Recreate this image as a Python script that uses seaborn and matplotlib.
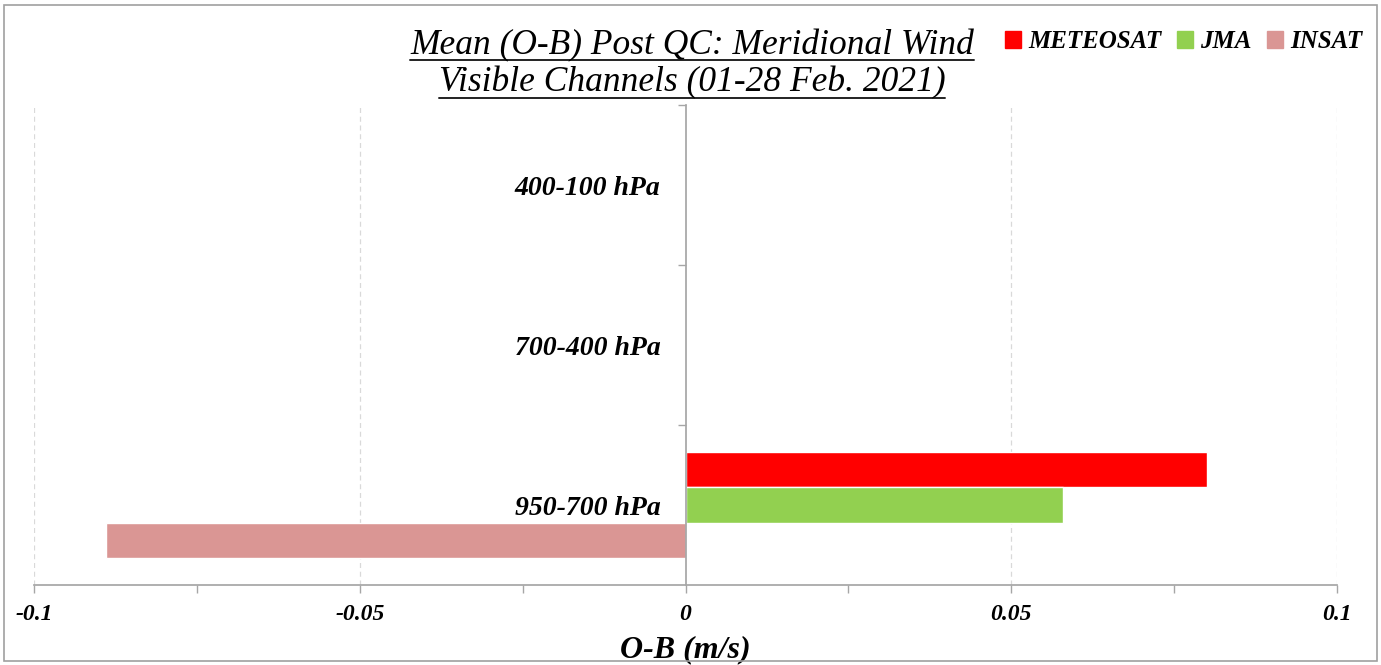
import numpy as np
import pandas as pd
import matplotlib
matplotlib.use("Agg")
import matplotlib.pyplot as plt
from matplotlib.lines import Line2D
from matplotlib.patches import Rectangle
import seaborn as sns

layers = ["400-100 hPa", "700-400 hPa", "950-700 hPa"]
satellites = ["METEOSAT", "JMA", "INSAT"]
meteosat = [np.nan, np.nan, 0.080]
jma = [np.nan, np.nan, 0.058]
insat = [np.nan, np.nan, -0.089]
colors = ["#ff0000", "#92d050", "#da9694"]
xticks = [-0.1, -0.05, 0, 0.05, 0.1]
xtick_labels = ["-0.1", "-0.05", "0", "0.05", "0.1"]

df = pd.DataFrame({
    "layer": layers * 3,
    "satellite": np.repeat(satellites, len(layers)),
    "value": meteosat + jma + insat,
})

sns.set_theme(style="white")
plt.rcParams["font.family"] = ["Liberation Serif", "DejaVu Serif"]
plt.rcParams["text.color"] = "black"
plt.rcParams["axes.labelcolor"] = "black"
plt.rcParams["xtick.labelcolor"] = "black"
plt.rcParams["ytick.labelcolor"] = "black"

fig = plt.figure(figsize=(13.81, 6.65), dpi=100)
ax = fig.add_axes([0.0246, 0.1203, 0.9436, 0.7218])

sns.barplot(data=df, x="value", y="layer", hue="satellite", order=layers,
            hue_order=satellites, palette=colors, orient="h", width=0.66,
            saturation=1, errorbar=None, legend=False, ax=ax)

ax.set_xlim(-0.1, 0.1)
ax.set_ylim(2.5, -0.5)

# x axis
ax.set_xticks(xticks)
ax.set_xticklabels(xtick_labels)
ax.set_xticks([-0.075, -0.025, 0.025, 0.075], minor=True)
ax.tick_params(axis="x", which="both", direction="out", length=6, width=1,
               color="#a6a6a6", bottom=True, pad=8)
for lab in ax.get_xticklabels():
    lab.set_fontsize(17)
    lab.set_fontweight("bold")
    lab.set_fontstyle("italic")
for xv in [-0.1, -0.05, 0.05, 0.1]:
    ax.axvline(xv, color="#d9d9d9", lw=0.9, ls=(0, (4, 3)), zorder=0)

# y axis sits at zero
ax.spines["left"].set_position(("data", 0))
ax.spines["left"].set_color("#a6a6a6")
ax.spines["bottom"].set_color("#a6a6a6")
ax.spines["top"].set_visible(False)
ax.spines["right"].set_visible(False)
ax.set_yticks(range(len(layers)))
ax.set_yticklabels(layers)
ax.set_yticks([-0.5, 0.5, 1.5], minor=True)
ax.tick_params(axis="y", which="major", length=0, pad=18)
ax.tick_params(axis="y", which="minor", direction="out", length=6, width=1,
               color="#a6a6a6", left=True)
for lab in ax.get_yticklabels():
    lab.set_fontsize(20)
    lab.set_fontweight("bold")
    lab.set_fontstyle("italic")

ax.set_xlabel("O-B (m/s)", fontsize=23, fontweight="bold", fontstyle="italic",
              labelpad=7)
ax.set_ylabel("")

# title with underlines
t1 = fig.text(0.501, 0.919, "Mean (O-B) Post QC: Meridional Wind", ha="center",
              va="baseline", fontsize=25.5, fontstyle="italic")
t2 = fig.text(0.501, 0.862, "Visible Channels (01-28 Feb. 2021)", ha="center",
              va="baseline", fontsize=25.5, fontstyle="italic")
fig.canvas.draw()
renderer = fig.canvas.get_renderer()
inv = fig.transFigure.inverted()
for t in (t1, t2):
    bb = t.get_window_extent(renderer)
    x0, y0 = inv.transform((bb.x0, bb.y0))
    x1, _ = inv.transform((bb.x1, bb.y0))
    fig.add_artist(Line2D([x0, x1], [y0 + 0.003, y0 + 0.003], transform=fig.transFigure,
                          color="#222222", lw=1.4))

# legend
handles = [Rectangle((0, 0), 1, 1, color=c) for c in colors]
fig.legend(handles, satellites, loc="upper right", bbox_to_anchor=(1.003, 0.988),
           ncol=3, frameon=False, handlelength=0.65, handleheight=0.65,
           handletextpad=0.3, columnspacing=0.6,
           prop={"size": 18, "weight": "bold", "style": "italic"})

# outer frame
fig.add_artist(Rectangle((0.003, 0.006), 0.994, 0.987, transform=fig.transFigure,
                         fill=False, edgecolor="#a0a0a0", lw=1.2))

fig.savefig("out.png", dpi=100)
